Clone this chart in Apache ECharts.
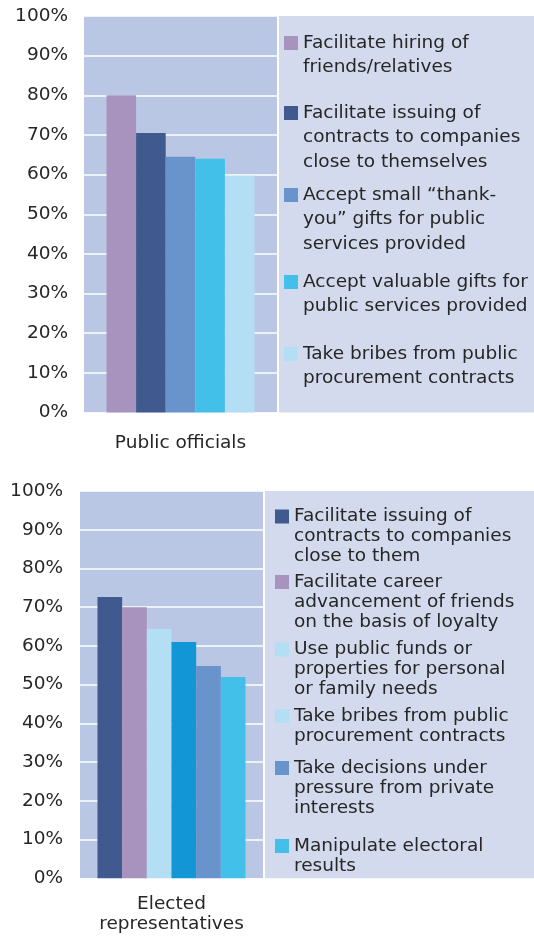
<!DOCTYPE html>
<html>
<head>
<meta charset="utf-8">
<script src="https://cdn.jsdelivr.net/npm/echarts@6/dist/echarts.min.js"></script>
<style>
html,body{margin:0;padding:0;background:#fff;}
#main{width:534px;height:937px;}
</style>
</head>
<body>
<div id="main"></div>
<script>
// 数据
var officialGroup = ['Public officials'];
var officialNames = [
	'Facilitate hiring of\nfriends/relatives',
	'Facilitate issuing of\ncontracts to companies\nclose to themselves',
	'Accept small \u201cthank-\nyou\u201d gifts for public\nservices provided',
	'Accept valuable gifts for\npublic services provided',
	'Take bribes from public\nprocurement contracts'
];
var officialValues = [80, 70.5, 64.5, 64, 59.7];

var electedGroup = ['Elected\nrepresentatives'];
var electedNames = [
	'Facilitate issuing of\ncontracts to companies\nclose to them',
	'Facilitate career\nadvancement of friends\non the basis of loyalty',
	'Use public funds or\nproperties for personal\nor family needs',
	'Take bribes from public\nprocurement contracts',
	'Take decisions under\npressure from private\ninterests',
	'Manipulate electoral\nresults'
];
var electedValues = [72.6, 70, 64.4, 61, 54.8, 52];

var yTicks = [0, 10, 20, 30, 40, 50, 60, 70, 80, 90, 100];

// 颜色
var officialColors = ['#a893bf', '#405a8f', '#6894cb', '#43c0e9', '#b3def3'];
var electedColors = ['#405a8f', '#a893bf', '#b3def3', '#1396d6', '#6894cb', '#43c0e9'];

var FONT = 'DejaVu Sans';
var TXT = '#262626';

// 图例位置 (图标中心)
var officialLegendY = [43, 113, 195, 282, 354];
var electedLegendY = [516.5, 582, 649.5, 716, 768, 846];

// 每个图例单独放置, 图标对齐第一行
function makeLegends(names, centers, left, lh){
	var list = [];
	for(var i=0;i<names.length;i++){
		var n = names[i].split('\n').length;
		var prefix = new Array(n).join('\n');
		list.push({
			left: left,
			top: centers[i] - (2*n-1)*lh/2,
			orient: 'vertical',
			padding: 0,
			itemWidth: 14,
			itemHeight: 14,
			icon: 'rect',
			selectedMode: false,
			data: [names[i]],
			formatter: (function(p){ return function(name){ return p + name; }; })(prefix),
			textStyle: {
				fontFamily: FONT,
				fontSize: 18.5,
				color: TXT,
				lineHeight: lh,
				backgroundColor: 'transparent'
			}
		});
	}
	return list;
}

function yAxisOf(idx, margin){
	return {
		type: 'value',
		gridIndex: idx,
		min: yTicks[0],
		max: yTicks[yTicks.length-1],
		interval: 10,
		axisLine: {show:false},
		axisTick: {show:false},
		splitLine: {lineStyle:{color:'#ffffff', width:1.5}},
		axisLabel: {
			formatter: '{value}%',
			fontFamily: FONT,
			fontSize: 18.5,
			color: TXT,
			margin: margin
		}
	};
}

var series = [];
for(var i=0;i<officialNames.length;i++){
	series.push({
		name: officialNames[i],
		type: 'bar',
		xAxisIndex: 0,
		yAxisIndex: 0,
		barWidth: 29.6,
		barGap: '0%',
		itemStyle: {color: officialColors[i]},
		data: [officialValues[i]]
	});
}
for(var j=0;j<electedNames.length;j++){
	series.push({
		name: electedNames[j],
		type: 'bar',
		xAxisIndex: 1,
		yAxisIndex: 1,
		barWidth: 24.67,
		barGap: '0%',
		itemStyle: {color: electedColors[j]},
		data: [electedValues[j]]
	});
}

var chart = echarts.init(document.getElementById('main'));
var option = {
	animation: false,
	backgroundColor: '#ffffff',
	grid: [
		{left:84, top:16, width:193, height:396.5, show:true, backgroundColor:'#b9c7e4', borderWidth:0},
		{left:80, top:491, width:183, height:387.3, show:true, backgroundColor:'#b9c7e4', borderWidth:0}
	],
	graphic: [
		{type:'rect', shape:{x:279, y:16, width:255, height:396.5}, style:{fill:'#d3daed'}},
		{type:'rect', shape:{x:265, y:491, width:269, height:387.3}, style:{fill:'#d3daed'}}
	],
	xAxis: [
		{type:'category', gridIndex:0, data:officialGroup, axisLine:{show:false}, axisTick:{show:false},
			axisLabel:{fontFamily:FONT, fontSize:18.5, color:TXT, margin:21}},
		{type:'category', gridIndex:1, data:electedGroup, axisLine:{show:false}, axisTick:{show:false},
			axisLabel:{fontFamily:FONT, fontSize:18.5, color:TXT, lineHeight:20, margin:16}}
	],
	yAxis: [yAxisOf(0, 16), yAxisOf(1, 17)],
	legend: makeLegends(officialNames, officialLegendY, 284, 24.5)
		.concat(makeLegends(electedNames, electedLegendY, 275, 20)),
	series: series
};
chart.setOption(option);
</script>
</body>
</html>
